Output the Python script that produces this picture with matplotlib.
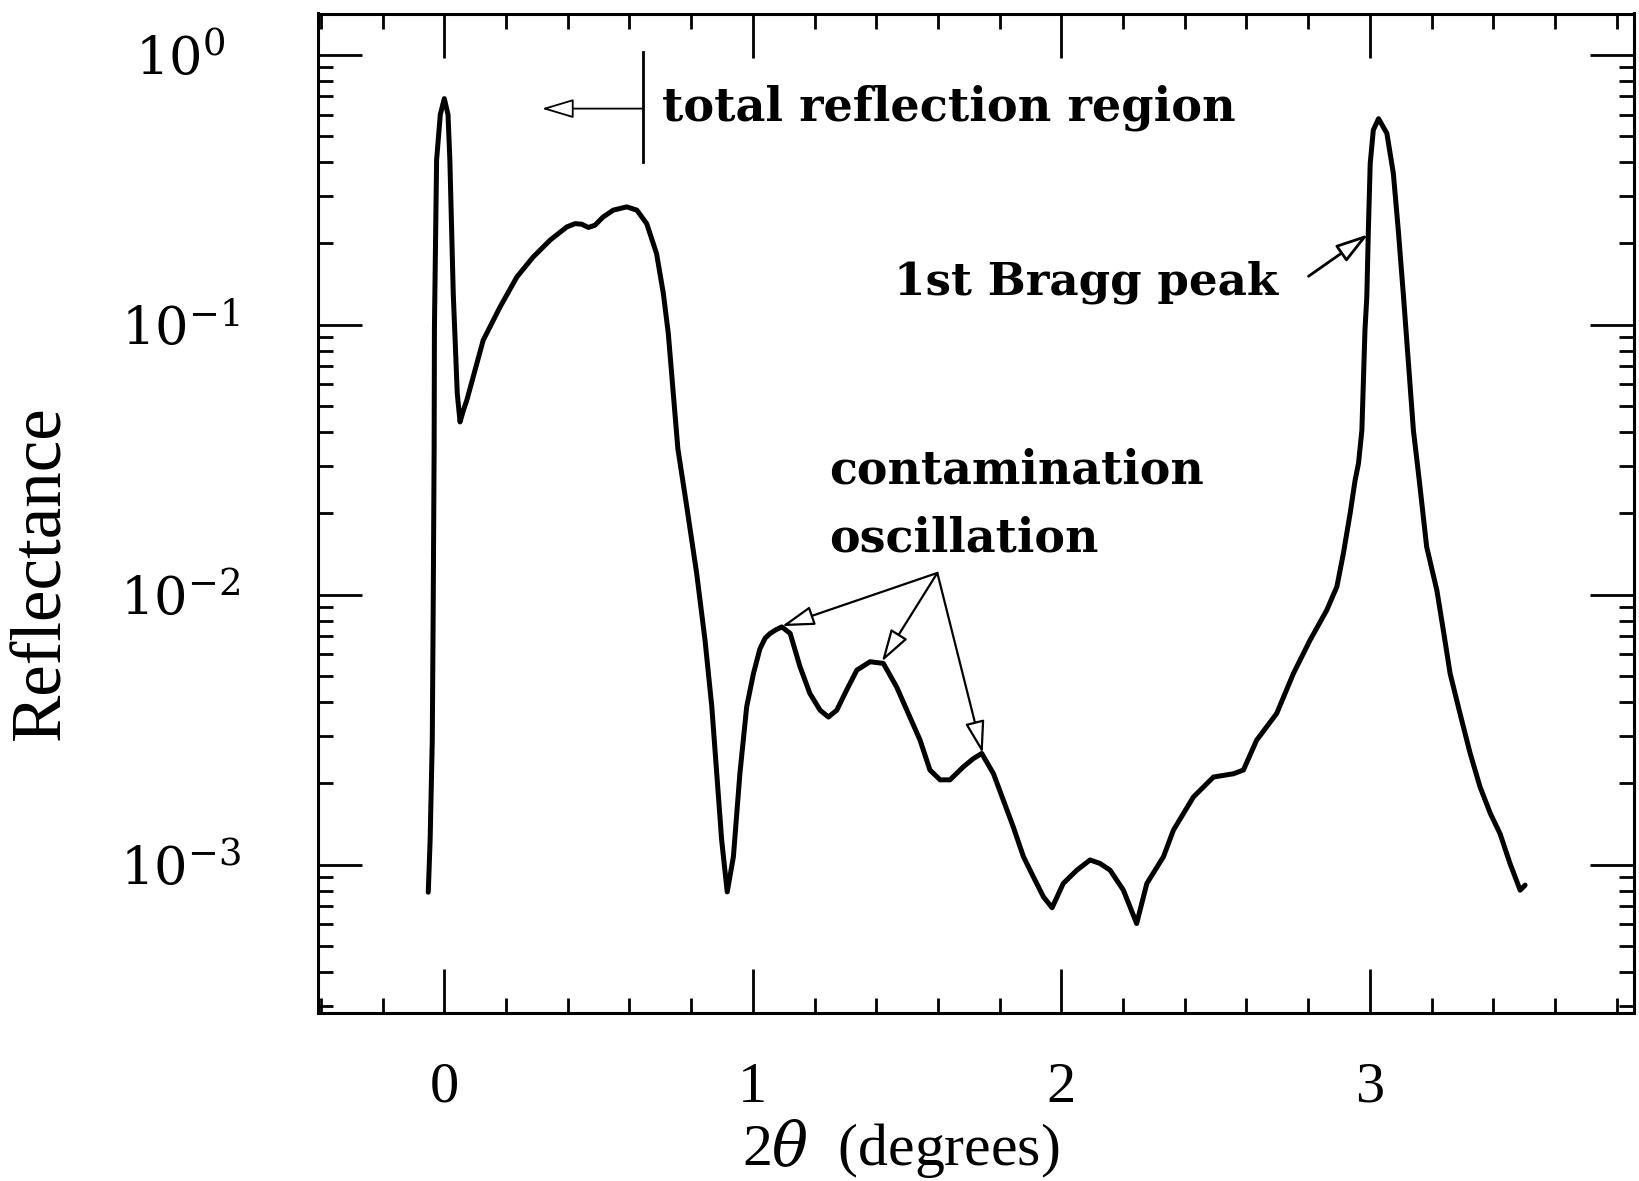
import numpy as np
import matplotlib
matplotlib.use("Agg")
import matplotlib.pyplot as plt

plt.rcParams["mathtext.fontset"] = "dejavuserif"

# ---- data (2theta in degrees, reflectance) ----
two_theta = [
    -0.052, -0.046, -0.039, -0.036, -0.033, -0.032, -0.025, -0.013, 0.000,
    0.012, 0.018, 0.029, 0.042, 0.051, 0.062, 0.073, 0.126, 0.181, 0.235,
    0.288, 0.343, 0.397, 0.424, 0.445, 0.467, 0.488, 0.515, 0.548, 0.591,
    0.624, 0.656, 0.688, 0.710, 0.726, 0.742, 0.757, 0.786, 0.818, 0.845,
    0.867, 0.883, 0.899, 0.917, 0.937, 0.958, 0.980, 1.002, 1.023, 1.040,
    1.056, 1.075, 1.094, 1.121, 1.153, 1.185, 1.218, 1.245, 1.272, 1.304,
    1.337, 1.380, 1.423, 1.466, 1.509, 1.542, 1.574, 1.607, 1.639, 1.682,
    1.715, 1.742, 1.780, 1.812, 1.844, 1.877, 1.909, 1.942, 1.970, 2.006,
    2.050, 2.093, 2.125, 2.158, 2.201, 2.244, 2.277, 2.331, 2.363, 2.428,
    2.493, 2.558, 2.590, 2.633, 2.698, 2.752, 2.806, 2.860, 2.893, 2.914,
    2.936, 2.952, 2.963, 2.974, 2.979, 2.984, 2.990, 2.995, 3.001, 3.011,
    3.028, 3.055, 3.076, 3.092, 3.109, 3.125, 3.141, 3.160, 3.184, 3.217,
    3.238, 3.260, 3.292, 3.325, 3.357, 3.390, 3.422, 3.454, 3.487, 3.503,
]
reflectance = [
    7.9e-4, 1.23e-3, 2.9e-3, 8.9e-3, 3.47e-2, 9.8e-2, 0.407, 0.60, 0.687,
    0.60, 0.407, 0.130, 0.0556, 0.0436, 0.0482, 0.0525, 0.0875, 0.1164, 0.150,
    0.178, 0.2056, 0.230, 0.2366, 0.2355, 0.229, 0.2333, 0.2506, 0.2655, 0.2729,
    0.2655, 0.2366, 0.1832, 0.1303, 0.0927, 0.0556, 0.0347, 0.0211, 0.01197, 0.00678,
    0.00384, 0.00217, 0.00123, 0.000792, 0.00107, 0.00217, 0.00384, 0.0051, 0.0063, 0.0069,
    0.00718, 0.00741, 0.00759, 0.00718, 0.0054, 0.0043, 0.00373, 0.00352, 0.00373, 0.00443,
    0.00525, 0.00564, 0.00556, 0.00455, 0.00352, 0.00289, 0.00224, 0.00206, 0.00206, 0.0023,
    0.00247, 0.00258, 0.00217, 0.00173, 0.00138, 0.00107, 0.000902, 0.000759, 0.000692, 0.000851,
    0.000953, 0.00104, 0.00101, 0.000953, 0.000804, 0.000605, 0.000851, 0.00107, 0.00134, 0.00178,
    0.00211, 0.00217, 0.00224, 0.00289, 0.00363, 0.0051, 0.00678, 0.00875, 0.0107, 0.0142,
    0.020, 0.0265, 0.0306, 0.0406, 0.0622, 0.0953, 0.1268, 0.224, 0.395, 0.525,
    0.579, 0.511, 0.363, 0.224, 0.1268, 0.0718, 0.0406, 0.0265, 0.01503, 0.01038,
    0.00738, 0.0051, 0.00363, 0.00258, 0.00194, 0.00155, 0.0013, 0.00101, 0.000804, 0.000839,
]

x_major = [0, 1, 2, 3]
x_labels = ["0", "1", "2", "3"]
y_major = [1e-3, 1e-2, 1e-1, 1e0]
y_labels = [r"$10^{-3}$", r"$10^{-2}$", r"$10^{-1}$", r"$10^{0}$"]

# ---- figure ----
W, H = 1639, 1181
fig = plt.figure(figsize=(W / 100, H / 100), dpi=100)
ax = fig.add_axes([318 / W, 1 - 1013 / H, (1634 - 318) / W, (1013 - 13.5) / H])

ax.plot(two_theta, reflectance, color="black", lw=3.6,
        solid_joinstyle="round", solid_capstyle="round")

ax.set_yscale("log")
ax.set_xlim(-0.4094, 3.856)
ax.set_ylim(2.82e-4, 1.42)

ax.set_xticks(x_major, labels=x_labels, fontfamily="Liberation Serif", fontsize=42)
ax.set_xticks(np.round(np.arange(-0.4, 3.81, 0.2), 2), minor=True)
ax.set_yticks(y_major, labels=y_labels, fontsize=38)
minor_y = [m * 10.0 ** e for e in range(-4, 1) for m in range(2, 10)]
ax.set_yticks([v for v in minor_y if 2.82e-4 <= v <= 1.42], minor=True)
ax.yaxis.set_minor_formatter(plt.NullFormatter())
plt.setp(ax.get_yticklabels(), ha="center")

ax.tick_params(which="both", direction="in", top=True, right=True, width=2, color="black")
ax.tick_params(which="major", length=31.5)
ax.tick_params(which="minor", length=11)
ax.tick_params(axis="x", which="major", pad=35)
ax.tick_params(axis="y", which="major", pad=99)
for s in ax.spines.values():
    s.set_linewidth(2.2)

# ---- axis labels ----
fig.text(42 / W, 1 - 573 / H, "Reflectance", rotation=90, ha="center", va="center",
         fontfamily="Liberation Serif", fontsize=51)
fig.text(901 / W, 1 - 1149 / H, r"2$\theta$  (degrees)", ha="center", va="center",
         fontfamily="Liberation Serif", fontsize=43)

# ---- annotations ----
txt = dict(fontfamily="DejaVu Serif", fontweight="bold", color="black",
           ha="left", va="baseline")
head = "-|>,head_length=20,head_width=6"


def open_arrow(tip, tail, lw=1.6):
    ax.annotate("", xy=tip, xytext=tail,
                arrowprops=dict(arrowstyle=head, mutation_scale=1, fc="white",
                                ec="black", lw=lw, shrinkA=0, shrinkB=0))


# total reflection region
ax.plot([0.643, 0.643], [1.023, 0.40], color="black", lw=2)
open_arrow((0.316, 0.631), (0.643, 0.631), lw=1.3)
ax.text(0.705, 0.571, "total reflection region", fontsize=33.3, **txt)

# 1st Bragg peak
ax.text(1.457, 0.1288, "1st Bragg peak", fontsize=32.5, **txt)
open_arrow((2.995, 0.216), (2.801, 0.151), lw=2)

# contamination oscillation
ax.text(1.247, 0.0259, "contamination", fontsize=33, **txt)
ax.text(1.247, 0.01439, "oscillation", fontsize=33, **txt)
origin = (1.598, 0.01203)
for tip in [(1.094, 0.00764), (1.418, 0.00564), (1.745, 0.00258)]:
    open_arrow(tip, origin, lw=1.6)

fig.savefig("out.png", dpi=100, facecolor="white")
